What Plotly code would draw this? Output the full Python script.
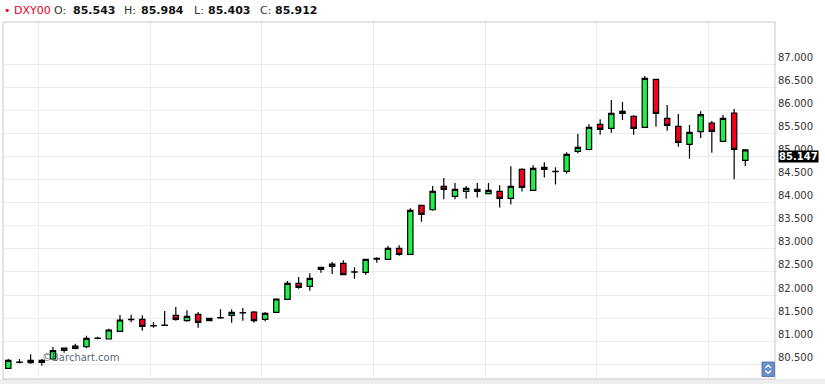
import plotly.graph_objects as go

# ---------------- data ----------------
symbol = "DXY00"
header_labels = ["O:", "H:", "L:", "C:"]
header_values = ["85.543", "85.984", "85.403", "85.912"]
last_price = 85.147

y_ticks = [80.5, 81.0, 81.5, 82.0, 82.5, 83.0, 83.5, 84.0, 84.5, 85.0, 85.5, 86.0, 86.5, 87.0]

opens = [80.413, 80.540, 80.586, 80.543, 80.614, 80.803, 80.846, 80.881, 81.060, 81.048,
         81.215, 81.465, 81.475, 81.333, 81.342, 81.561, 81.444, 81.583, 81.444, 81.505,
         81.561, 81.615, 81.633, 81.475, 81.626, 81.908, 82.255, 82.190, 82.601, 82.623,
         82.688, 82.497, 82.493, 82.780, 82.775, 83.013, 82.883, 83.945, 83.849, 84.357,
         84.140, 84.248, 84.292, 84.200, 84.248, 84.096, 84.725, 84.270, 84.725, 84.672,
         84.682, 85.115, 85.154, 85.700, 85.613, 85.938, 85.873, 85.635, 86.675, 85.830,
         85.657, 85.267, 85.543, 85.728, 85.332, 85.945, 84.920]
highs = [80.614, 80.614, 80.716, 80.614, 80.874, 80.860, 80.946, 81.119, 81.098, 81.271,
         81.568, 81.575, 81.565, 81.416, 81.655, 81.741, 81.670, 81.633, 81.500, 81.691,
         81.691, 81.720, 81.655, 81.633, 81.920, 82.305, 82.391, 82.471, 82.605, 82.716,
         82.753, 82.601, 82.780, 82.818, 83.063, 83.078, 83.880, 83.950, 84.363, 84.536,
         84.428, 84.363, 84.428, 84.428, 84.378, 84.790, 84.747, 84.814, 84.879, 84.770,
         85.093, 85.490, 85.702, 85.808, 86.226, 86.183, 85.895, 86.746, 86.680, 86.118,
         85.923, 85.685, 85.984, 85.771, 85.901, 86.031, 85.147]
lows = [80.405, 80.521, 80.513, 80.469, 80.599, 80.751, 80.825, 80.846, 81.041, 81.041,
        81.206, 81.410, 81.228, 81.293, 81.330, 81.444, 81.423, 81.293, 81.440, 81.488,
        81.401, 81.444, 81.401, 81.431, 81.626, 81.908, 82.138, 82.094, 82.484, 82.456,
        82.438, 82.354, 82.441, 82.701, 82.775, 82.853, 82.880, 83.589, 83.828, 84.075,
        84.075, 84.088, 84.114, 84.183, 83.897, 83.962, 84.244, 84.268, 84.547, 84.396,
        84.634, 85.072, 85.137, 85.475, 85.518, 85.793, 85.475, 85.630, 85.648, 85.561,
        85.215, 84.955, 85.403, 85.085, 85.310, 84.508, 84.796]
closes = [80.586, 80.545, 80.534, 80.586, 80.794, 80.853, 80.896, 81.063, 81.066, 81.243,
          81.460, 81.475, 81.323, 81.338, 81.348, 81.475, 81.540, 81.410, 81.496, 81.512,
          81.626, 81.620, 81.444, 81.605, 81.915, 82.255, 82.168, 82.363, 82.558, 82.673,
          82.441, 82.503, 82.775, 82.795, 83.013, 82.883, 83.836, 83.750, 84.248, 84.292,
          84.292, 84.313, 84.248, 84.270, 84.096, 84.357, 84.335, 84.747, 84.768, 84.678,
          85.050, 85.202, 85.635, 85.592, 85.938, 85.982, 85.613, 86.697, 85.938, 85.678,
          85.310, 85.527, 85.912, 85.548, 85.830, 85.158, 85.147]
bar_index = list(range(len(opens)))

# ---------------- styling ----------------
W, H = 825, 384
ML, MR, MT, MB = 3, 50, 22, 5
PW, PH = W - ML - MR, H - MT - MB
GREEN = "#1ff04a"
RED = "#f2001c"
GRID = "#ebebeb"
BORDER = "#c9c9c9"
FONT = "DejaVu Sans"


def px_x(px):
    return (px - ML) / PW


def px_y(py):
    return (H - MB - py) / PH


fig = go.Figure()
fig.add_trace(go.Candlestick(
    x=bar_index, open=opens, high=highs, low=lows, close=closes,
    increasing=dict(fillcolor=GREEN, line=dict(color="black", width=1.2)),
    decreasing=dict(fillcolor=RED, line=dict(color="black", width=1.2)),
    whiskerwidth=0, showlegend=False, hoverinfo="skip",
))

shapes = [
    # bottom strip
    dict(type="rect", xref="paper", yref="paper", x0=px_x(-5), x1=px_x(W + 5),
         y0=px_y(H + 5), y1=px_y(379), fillcolor="#eeeeee", line=dict(width=0), layer="below"),
    # plot border
    dict(type="rect", xref="paper", yref="paper", x0=0, x1=1, y0=0, y1=1,
         line=dict(color=BORDER, width=1), layer="above"),
    # scroll widget
    dict(type="rect", xref="paper", yref="paper", x0=px_x(762), x1=px_x(774.5),
         y0=px_y(376.5), y1=px_y(362), fillcolor="#6a8ec8", line=dict(color="#5a7db8", width=1)),
    dict(type="path", xref="paper", yref="paper",
         path=f"M {px_x(765.3)} {px_y(368)} L {px_x(768.2)} {px_y(365.2)} L {px_x(771.1)} {px_y(368)}",
         line=dict(color="white", width=1.2)),
    dict(type="path", xref="paper", yref="paper",
         path=f"M {px_x(765.3)} {px_y(370.5)} L {px_x(768.2)} {px_y(373.3)} L {px_x(771.1)} {px_y(370.5)}",
         line=dict(color="white", width=1.2)),
]

annotations = []
# header
hdr_items = [("•", 3, "#e8001c", False), (symbol, 13, "#e8001c", False)]
hdr_x_label = [53, 123, 193, 259]
hdr_x_value = [72, 140, 207, 274]
for lab, val, xl, xv in zip(header_labels, header_values, hdr_x_label, hdr_x_value):
    hdr_items.append((lab, xl, "#333333", False))
    hdr_items.append((val, xv, "#111111", True))
for txt, xpos, col, bold in hdr_items:
    annotations.append(dict(
        xref="paper", yref="paper", x=0, y=1, xshift=xpos - ML - 1, yshift=12,
        xanchor="left", yanchor="middle", showarrow=False,
        text=f"<b>{txt}</b>" if bold else txt,
        font=dict(family=FONT, size=11, color=col),
    ))

# watermark
annotations.append(dict(
    xref="paper", yref="paper", x=px_x(40), y=px_y(357), xanchor="left", yanchor="middle",
    showarrow=False, text="©Barchart.com",
    font=dict(family=FONT, size=10, color="rgba(55,70,95,0.85)"),
))

# last price label
annotations.append(dict(
    xref="paper", yref="y", x=1, y=last_price, xshift=3, yshift=-7,
    xanchor="left", yanchor="middle", showarrow=False,
    text=f"<b>{last_price:.3f}</b>", bgcolor="black", borderpad=0,
    font=dict(family=FONT, size=10, color="white"),
))

x_left = -(8.3 - ML) / 11.167
x_right = (W - MR - 8.3) / 11.167

fig.update_layout(
    width=W, height=H,
    margin=dict(l=ML, r=MR, t=MT, b=MB),
    paper_bgcolor="white", plot_bgcolor="white",
    boxgap=0.32,
    showlegend=False,
    xaxis=dict(
        range=[x_left, x_right], rangeslider=dict(visible=False),
        tickvals=[2.7 + 10 * k for k in range(7)], showticklabels=False,
        showgrid=True, gridcolor=GRID, gridwidth=1, zeroline=False, ticks="",
        showline=False, fixedrange=True,
    ),
    yaxis=dict(
        side="right", range=[80.181, 87.917],
        tickvals=y_ticks, ticktext=[f"{v:.3f}" for v in y_ticks],
        ticklabelshift=-7, ticklabelstandoff=2,
        showgrid=True, gridcolor=GRID, gridwidth=1, zeroline=False, ticks="",
        showline=False, tickfont=dict(family=FONT, size=10, color="#333333"),
        fixedrange=True,
    ),
    shapes=shapes,
    annotations=annotations,
)

fig.write_html(
    "out.html",
    config={"displayModeBar": False},
    post_script="document.body.style.margin='0';document.body.style.overflow='hidden';",
)
